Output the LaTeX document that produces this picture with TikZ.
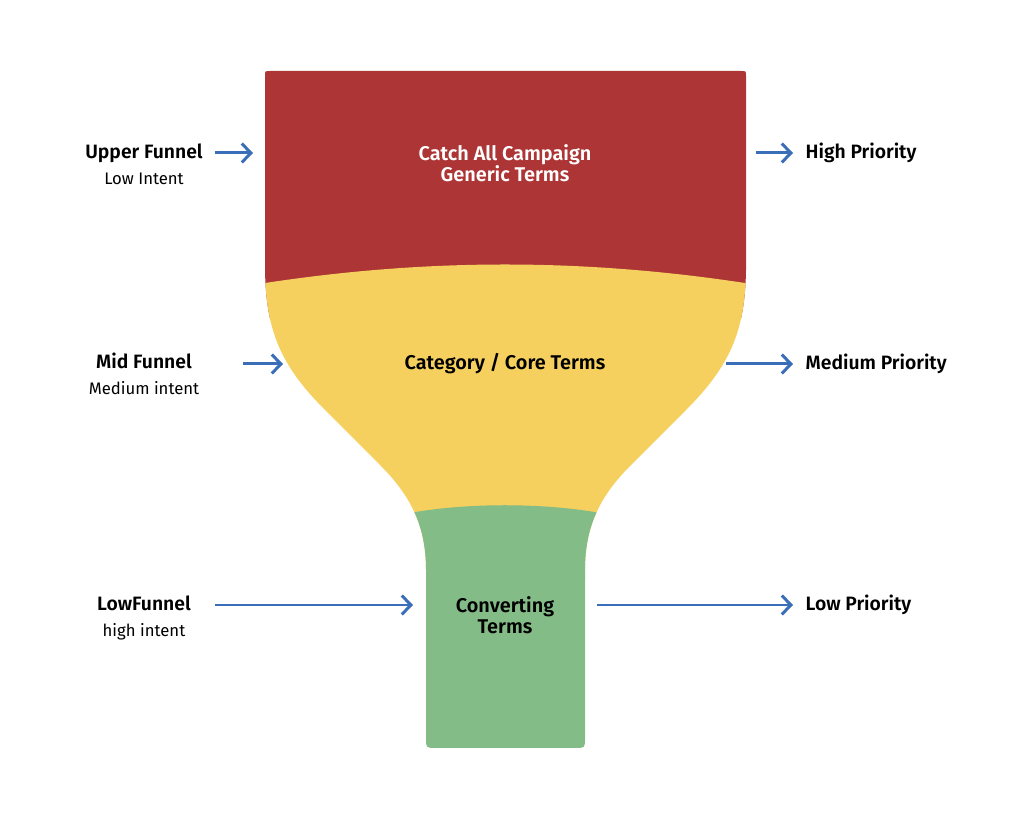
\documentclass[tikz,border=0pt]{standalone}
\usepackage{fontspec}
\setmainfont{Fira Sans}[BoldFont={Fira Sans SemiBold}]
\usetikzlibrary{arrows.meta}
\definecolor{catchred}{RGB}{173,53,53}
\definecolor{coreyellow}{RGB}{245,208,94}
\definecolor{convgreen}{RGB}{132,188,135}
\definecolor{flowblue}{RGB}{58,110,184}
\begin{document}
\begin{tikzpicture}[x=0.01cm,y=-0.01cm,
        flow/.style={draw=flowblue,line width=0.85pt,-{Straight Barb[length=2.6pt,width=5.4pt]}},
        side/.style={anchor=base,inner sep=0pt,font=\fontsize{5.5}{6}\selectfont\bfseries},
        sub/.style={anchor=base,inner sep=0pt,font=\fontsize{4.75}{5.5}\selectfont},
        prio/.style={anchor=base west,inner sep=0pt,font=\fontsize{5.5}{6}\selectfont\bfseries},
        stage/.style={anchor=base,inner sep=0pt,align=center,font=\fontsize{5.65}{6.2}\selectfont\bfseries}]
        \useasboundingbox (0,0) rectangle (1024,819);
        %% Funnel body
        \begin{scope}
            \clip (270,71) -- (741,71) .. controls (746,71) .. (746,76)
                -- (746,270) .. controls (745,330) and (731,365) .. (686,410)
                -- (631,465) .. controls (601,495) and (585,525) .. (585,570)
                -- (585,738) .. controls (585,748) .. (575,748)
                -- (436,748) .. controls (426,748) .. (426,738)
                -- (426,570) .. controls (426,525) and (410,495) .. (380,465)
                -- (325,410) .. controls (280,365) and (266,330) .. (265,270)
                -- (265,76) .. controls (265,71) .. (270,71) -- cycle;
            \fill[catchred] (200,40) rectangle (820,320);
            \fill[coreyellow] (240,287) .. controls (420,257) and (590,257) .. (770,287)
                -- (770,580) -- (240,580) -- cycle;
            \fill[convgreen] (400,515) .. controls (460,502) and (550,502) .. (610,515)
                -- (610,780) -- (400,780) -- cycle;
        \end{scope}
        %% Stage texts
        \node[stage,text=white] (catch) at (505,182) {Catch All Campaign\\Generic Terms};
        \node[stage] (core) at (505,370) {Category / Core Terms};
        \node[stage] (conv) at (505,634) {Converting\\Terms};
        %% Left labels
        \node[side] (upper) at (144,159) {Upper Funnel};
        \node[sub] (uppersub) at (144,185) {Low Intent};
        \node[side] (mid) at (144,369) {Mid Funnel};
        \node[sub] (midsub) at (144,395) {Medium intent};
        \node[side] (low) at (144,611) {LowFunnel};
        \node[sub] (lowsub) at (144,637) {high intent};
        %% Right labels
        \node[prio] (high) at (805,159) {High Priority};
        \node[prio] (medium) at (805,370) {Medium Priority};
        \node[prio] (lowprio) at (805,611) {Low Priority};
        %% Arrow ends
        \coordinate (upin) at (215,153);   \coordinate (upend) at (253,153);
        \coordinate (midin) at (243,364);  \coordinate (midend) at (283,364);
        \coordinate (lowin) at (215,605);  \coordinate (lowend) at (413,605);
        \coordinate (highout) at (756,153);  \coordinate (highend) at (793,153);
        \coordinate (medout) at (726,364);   \coordinate (medend) at (793,364);
        \coordinate (lowout) at (597,605);   \coordinate (lowpend) at (793,605);
        %% Arrows
        \draw[flow] (upin) -- (upend);
        \draw[flow] (midin) -- (midend);
        \draw[flow] (lowin) -- (lowend);
        \draw[flow] (highout) -- (highend);
        \draw[flow] (medout) -- (medend);
        \draw[flow] (lowout) -- (lowpend);
\end{tikzpicture}
\end{document}
